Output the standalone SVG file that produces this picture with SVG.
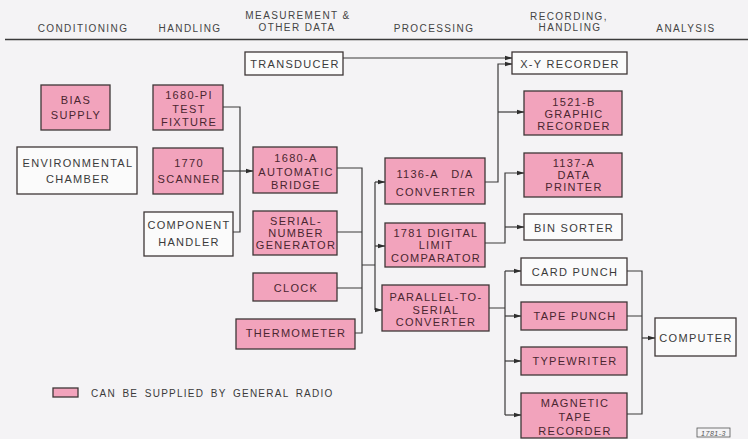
<svg xmlns="http://www.w3.org/2000/svg" width="748" height="439" viewBox="0 0 748 439">
<style>
.bg{fill:#f4f3f5}
.p{fill:#f2a3bc;stroke:#3e3636;stroke-width:1.3}
.w{fill:#fbfbfb;stroke:#3e3636;stroke-width:1.3}
text{font-family:"Liberation Sans",Arial,sans-serif;text-anchor:middle;letter-spacing:1.3px}
.t{font-size:11px;fill:#4a2630}
.tw{font-size:11px;fill:#3a3a3a}
.h{font-size:10px;fill:#444;letter-spacing:1.4px}
.c path{fill:none;stroke:#3a3a3a;stroke-width:1.2}
.a{marker-end:url(#ah)}
</style>
<defs>
<marker id="ah" markerWidth="8" markerHeight="6" refX="7.5" refY="3" orient="auto" markerUnits="userSpaceOnUse">
<path d="M0,0.5 L8,3 L0,5.5 z" fill="#2e2e2e"/>
</marker>
</defs>
<rect class="bg" x="0" y="0" width="748" height="439"/>

<g id="header">
<text class="h" x="83" y="32">CONDITIONING</text>
<text class="h" x="190" y="32">HANDLING</text>
<text class="h" x="298" y="19">MEASUREMENT &amp;</text>
<text class="h" x="297" y="31">OTHER DATA</text>
<text class="h" x="434" y="32">PROCESSING</text>
<text class="h" x="569" y="20">RECORDING,</text>
<text class="h" x="570" y="31">HANDLING</text>
<text class="h" x="686" y="32">ANALYSIS</text>
<path d="M5,39.5 H748" stroke="#3a3a3a" stroke-width="1.3"/>
</g>

<g class="c" id="connectors">
<path d="M223,107 H240 V232 H233"/>
<path class="a" d="M223,171 H253"/>
<path class="a" d="M343,58 H512"/>
<path d="M337,168 H362 V333 H355 M337,232 H362 M337,288 H362 M362,265 H375"/>
<path d="M375,182 V310"/>
<path class="a" d="M375,182 H385"/>
<path class="a" d="M375,246 H385"/>
<path class="a" d="M375,310 H382"/>
<path class="a" d="M485,182 H498 V64 H512"/>
<path class="a" d="M498,112 H524"/>
<path class="a" d="M485,243 H505 V173 H524"/>
<path class="a" d="M505,227 H524"/>
<path d="M489,308 H505 M505,271 V415"/>
<path class="a" d="M505,271 H521"/>
<path class="a" d="M505,316 H521"/>
<path class="a" d="M505,361 H521"/>
<path class="a" d="M505,415 H521"/>
<path d="M627,271 H642 V414 H627 M627,316 H642"/>
<path class="a" d="M642,338 H655"/>
</g>

<g id="bias-supply"><rect class="p" x="41" y="85" width="69" height="45"/>
<text class="t" x="76" y="103.5">BIAS</text><text class="t" x="76" y="118.5">SUPPLY</text></g>
<g id="environmental-chamber"><rect class="w" x="17" y="147" width="120" height="47"/>
<text class="tw" x="78" y="166.5">ENVIRONMENTAL</text><text class="tw" x="78" y="183">CHAMBER</text></g>
<g id="test-fixture"><rect class="p" x="153" y="85" width="70" height="45"/>
<text class="t" x="189" y="99">1680-PI</text><text class="t" x="189" y="112.5">TEST</text><text class="t" x="189" y="126">FIXTURE</text></g>
<g id="scanner"><rect class="p" x="153" y="148" width="70" height="46"/>
<text class="t" x="189" y="167">1770</text><text class="t" x="189" y="183">SCANNER</text></g>
<g id="component-handler"><rect class="w" x="144" y="212" width="89" height="44"/>
<text class="tw" x="189" y="228.5">COMPONENT</text><text class="tw" x="189" y="246">HANDLER</text></g>

<g id="transducer"><rect class="w" x="245" y="52" width="98" height="23"/>
<text class="tw" x="295" y="67.5">TRANSDUCER</text></g>
<g id="automatic-bridge"><rect class="p" x="253" y="147" width="84" height="46"/>
<text class="t" x="296" y="162">1680-A</text><text class="t" x="296" y="175.5">AUTOMATIC</text><text class="t" x="296" y="189">BRIDGE</text></g>
<g id="serial-number-generator"><rect class="p" x="253" y="211" width="84" height="44"/>
<text class="t" x="296" y="225">SERIAL-</text><text class="t" x="296" y="237">NUMBER</text><text class="t" x="296" y="249">GENERATOR</text></g>
<g id="clock"><rect class="p" x="253" y="273" width="84" height="28"/>
<text class="t" x="296" y="291.5">CLOCK</text></g>
<g id="thermometer"><rect class="p" x="236" y="319" width="119" height="30"/>
<text class="t" x="296" y="337">THERMOMETER</text></g>

<g id="da-converter"><rect class="p" x="385" y="158" width="100" height="46"/>
<text class="t" x="435" y="178" xml:space="preserve">1136-A   D/A</text><text class="t" x="436" y="196">CONVERTER</text></g>
<g id="limit-comparator"><rect class="p" x="385" y="223" width="100" height="44"/>
<text class="t" x="436" y="236.5">1781 DIGITAL</text><text class="t" x="436" y="248.5">LIMIT</text><text class="t" x="436" y="261.5">COMPARATOR</text></g>
<g id="parallel-to-serial"><rect class="p" x="382" y="285" width="107" height="46"/>
<text class="t" x="436" y="301">PARALLEL-TO-</text><text class="t" x="436" y="314">SERIAL</text><text class="t" x="436" y="326">CONVERTER</text></g>

<g id="xy-recorder"><rect class="w" x="512" y="52" width="115" height="22"/>
<text class="tw" x="570" y="67.5">X-Y RECORDER</text></g>
<g id="graphic-recorder"><rect class="p" x="524" y="91" width="98" height="44"/>
<text class="t" x="574" y="106">1521-B</text><text class="t" x="574" y="117.5">GRAPHIC</text><text class="t" x="574" y="130">RECORDER</text></g>
<g id="data-printer"><rect class="p" x="524" y="153" width="98" height="44"/>
<text class="t" x="574" y="166.5">1137-A</text><text class="t" x="574" y="178.5">DATA</text><text class="t" x="574" y="191">PRINTER</text></g>
<g id="bin-sorter"><rect class="w" x="524" y="214" width="98" height="26"/>
<text class="tw" x="574" y="231.5">BIN SORTER</text></g>
<g id="card-punch"><rect class="w" x="521" y="258" width="106" height="27"/>
<text class="tw" x="575" y="275.5">CARD PUNCH</text></g>
<g id="tape-punch"><rect class="p" x="521" y="302" width="106" height="28"/>
<text class="t" x="575" y="320">TAPE PUNCH</text></g>
<g id="typewriter"><rect class="p" x="521" y="347" width="106" height="28"/>
<text class="t" x="575" y="365">TYPEWRITER</text></g>
<g id="magnetic-tape-recorder"><rect class="p" x="521" y="393" width="106" height="45"/>
<text class="t" x="575" y="407">MAGNETIC</text><text class="t" x="575" y="421">TAPE</text><text class="t" x="575" y="435">RECORDER</text></g>
<g id="computer"><rect class="w" x="655" y="318" width="81" height="38"/>
<text class="tw" x="696" y="342">COMPUTER</text></g>

<g id="legend"><rect class="p" x="53" y="388" width="25" height="9"/>
<text class="tw" x="91" y="396.5" style="text-anchor:start;font-size:10px;letter-spacing:1.25px;word-spacing:2.5px">CAN BE SUPPLIED BY GENERAL RADIO</text></g>
<g id="figure-number"><rect x="697" y="428" width="33" height="9" fill="none" stroke="#555" stroke-width="0.8"/>
<text x="713.5" y="435.5" style="font-size:7px;font-style:italic;fill:#555;letter-spacing:0.5px">1781-3</text></g>
</svg>
